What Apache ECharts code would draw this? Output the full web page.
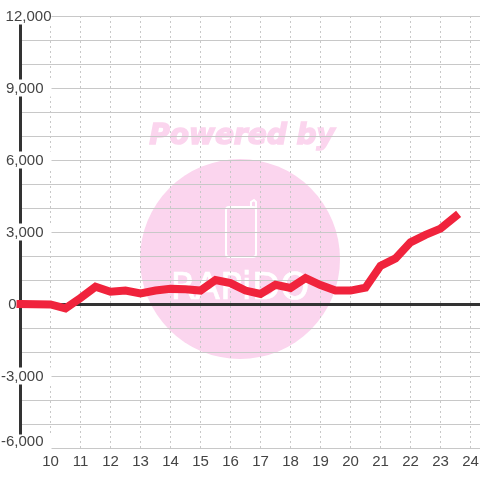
<!DOCTYPE html>
<html><head><meta charset="utf-8">
<style>html,body{margin:0;padding:0;background:#fff}#c{width:480px;height:480px}</style>
<script src="https://cdn.jsdelivr.net/npm/echarts@6/dist/echarts.min.js"></script>
</head><body><div id="c"></div>
<script>
const hours = [9,10,10.5,11,11.5,12,12.5,13,13.5,14,14.5,15,15.5,16,16.5,17,17.5,18,18.5,19,19.5,20,20.5,21,21.5,22,22.5,23,23.5];
const values = [0,-20,-180,250,720,510,560,445,560,630,610,560,1000,870,560,420,800,670,1080,790,560,560,680,1590,1900,2570,2880,3140,3650];
const xTickLabels = [10,11,12,13,14,15,16,17,18,19,20,21,22,23,24];
const yTickLabels = {'12000':'12,000','9000':'9,000','6000':'6,000','3000':'3,000','0':'0','-3000':'-3,000','-6000':'-6,000'};
const font = 'Liberation Sans', ink = '#444', pink = '#fbd5ee';
const base = {fontFamily:font,fontSize:15,color:ink,lineHeight:14,backgroundColor:'#fff'};
const chart = echarts.init(document.getElementById('c'),null,{renderer:'canvas'});
const xCommon = {type:'value',min:9,max:24.3167,interval:1};
chart.setOption({
  animation:false,
  backgroundColor:'#fff',
  grid:{left:20.5,right:0,top:16,bottom:32,containLabel:false,outerBoundsMode:'none'},
  xAxis:[
    Object.assign({},xCommon,{
      position:'bottom',
      axisLine:{show:false,onZero:false},axisTick:{show:false},
      axisLabel:{fontFamily:font,fontSize:15,color:ink,margin:6,showMinLabel:false,showMaxLabel:false,
        formatter:v=>xTickLabels.includes(v)?String(v):''},
      splitLine:{show:true,showMinLine:false,showMaxLine:false,lineStyle:{color:'#c8c8c8',width:1,type:[2,3]}}
    }),
    Object.assign({},xCommon,{
      position:'bottom',
      axisLine:{show:true,onZero:true,lineStyle:{color:'#333',width:3}},
      axisTick:{show:false},axisLabel:{show:false},splitLine:{show:false}
    })
  ],
  yAxis:{type:'value',min:-6000,max:12000,interval:1000,position:'left',
    axisLine:{show:true,onZero:false,lineStyle:{color:'#333',width:3}},
    axisTick:{show:false},
    splitLine:{show:true,lineStyle:{color:'#c8c8c8',width:1}},
    axisLabel:{show:true,align:'right',margin:-31,hideOverlap:false,showMinLabel:true,showMaxLabel:true,
      formatter:v=>{
        const t=yTickLabels[String(v)];
        if(t===undefined) return '';
        if(v===12000) return '{a|'+t+'}';
        if(v===0) return '{z|'+t+'}';
        if(v===-6000) return '{b|'+t+'}';
        return '{m|'+t+'}';
      },
      rich:{
        a:Object.assign({},base,{padding:[2,0,0,0]}),
        m:Object.assign({},base,{padding:[2,8,0,0]}),
        z:Object.assign({},base,{padding:[2,35,0,0],backgroundColor:'transparent'}),
        b:Object.assign({},base,{padding:[0,8,12,0]})
      }
    }
  },
  graphic:[
    {type:'circle',z:-10,silent:true,shape:{cx:240,cy:259,r:100},style:{fill:pink}},
    {type:'text',z:-9,silent:true,x:242,y:137,style:{text:'Powered by',fill:pink,stroke:pink,lineWidth:1.5,fontFamily:'DejaVu Sans',fontSize:28,fontWeight:'bold',fontStyle:'italic',align:'center',verticalAlign:'middle'}},
    {type:'text',z:-9,silent:true,x:240,y:289,style:{text:'RAPiDO',fill:'#fff',stroke:'#fff',lineWidth:0.6,fontFamily:'DejaVu Sans',fontSize:37,align:'center',verticalAlign:'middle'}},
    {type:'rect',z:-9,silent:true,shape:{x:226,y:207,width:30,height:50,r:3},style:{fill:'none',stroke:'#fff',lineWidth:2}},
    {type:'polyline',z:-9,silent:true,shape:{points:[[251,207],[251,202],[254,200],[256,202],[256,210]]},style:{fill:'none',stroke:'#fff',lineWidth:2}}
  ],
  series:[{type:'line',xAxisIndex:0,yAxisIndex:0,z:5,symbol:'none',smooth:false,clip:false,
    data:hours.map((h,i)=>[h,values[i]]),
    lineStyle:{color:'#f0233c',width:8,cap:'square',join:'miter'}}]
});
</script></body></html>
